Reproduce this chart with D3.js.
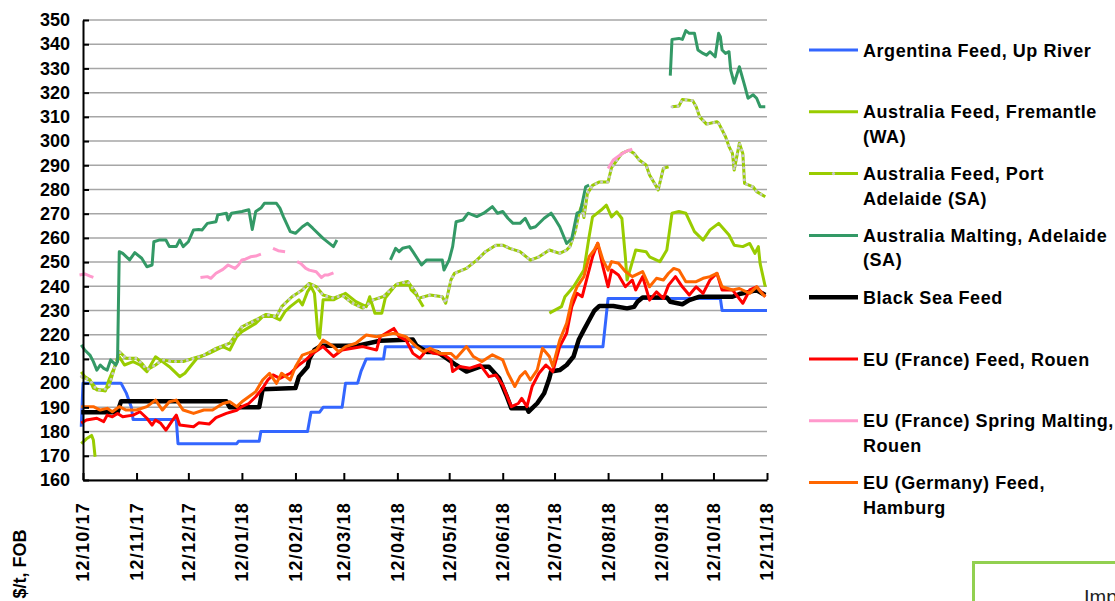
<!DOCTYPE html>
<html>
<head>
<meta charset="utf-8">
<script src="https://cdn.jsdelivr.net/npm/d3@7"></script>
<style>
body { margin:0; background:#fff; }
text { font-family:"Liberation Sans", Arial, sans-serif; }
</style>
</head>
<body>
<svg width="1115" height="601"></svg>
<script>
// ---- data ----
var xDomain = ["2017-10-12", "2018-11-12"];
var xTicks = ["2017-10-12","2017-11-12","2017-12-12","2018-01-12","2018-02-12","2018-03-12","2018-04-12",
              "2018-05-12","2018-06-12","2018-07-12","2018-08-12","2018-09-12","2018-10-12","2018-11-12"];
var yTicks = [160,170,180,190,200,210,220,230,240,250,260,270,280,290,300,310,320,330,340,350];

var argentina = [[
 ["2017-10-11",182],["2017-10-12",200],["2017-11-03",200],["2017-11-06",196],["2017-11-09",190],["2017-11-10",185],
 ["2017-12-05",185],["2017-12-06",175],["2018-01-09",175],["2018-01-10",176],["2018-01-22",176],["2018-01-23",180],
 ["2018-02-19",180],["2018-02-21",188],["2018-02-26",188],["2018-02-28",190],["2018-03-11",190],["2018-03-13",200],
 ["2018-03-20",200],["2018-03-22",205],["2018-03-25",210],["2018-04-04",210],["2018-04-05",215],["2018-08-09",215],
 ["2018-08-12",235],["2018-10-16",235],["2018-10-17",230],["2018-11-12",230]
]];

var fremantle = [
 [["2017-10-11",175],["2017-10-14",177],["2017-10-17",178.4],["2017-10-18",176.5],["2017-10-19",169.6]],
 [["2017-10-11",204.7],["2017-10-13",202.7],["2017-10-16",201.3],["2017-10-18",197.9],["2017-10-22",197.2],["2017-10-25",196.8],
  ["2017-10-27",201.3],["2017-10-29",204.7],["2017-11-02",210.9],["2017-11-05",207.5],["2017-11-10",208.9],["2017-11-14",207.5],
  ["2017-11-18",204.7],["2017-11-23",210.9],["2017-11-27",208.9],["2017-12-01",206.8],["2017-12-07",202.7],["2017-12-10",204.1],
  ["2017-12-13",206.8],["2017-12-17",210.3],["2017-12-24",212.3],["2018-01-01",215.1],["2018-01-05",213.7],["2018-01-09",219.2],
  ["2018-01-12",221.3],["2018-01-20",224.7],["2018-01-24",227.5],["2018-01-30",227.5],["2018-02-03",226.1],["2018-02-06",229.6],
  ["2018-02-09",231.6],["2018-02-14",234.4],["2018-02-16",232.3],["2018-02-19",237.8],["2018-02-21",239.9],["2018-02-23",237.1],
  ["2018-02-24",228.9],["2018-02-25",219.9],["2018-02-26",218.6],["2018-02-28",234.4],["2018-03-06",234.4],["2018-03-13",237.1],
  ["2018-03-19",233.7],["2018-03-25",231.6],["2018-03-27",235.7],["2018-03-30",228.9],["2018-04-03",228.9],["2018-04-05",235.1],
  ["2018-04-11",240.5],["2018-04-19",240.5],["2018-04-20",238.5],["2018-04-23",236.4],["2018-04-27",231.6]],
 [["2018-07-09",228.9],["2018-07-16",231.6],["2018-07-18",235.7],["2018-07-23",239.8],["2018-07-29",246.7],["2018-08-01",260.5],
  ["2018-08-03",268.7],["2018-08-08",271.5],["2018-08-11",273.5],["2018-08-14",268.7],["2018-08-17",270.8],["2018-08-20",268],
  ["2018-08-22",252.2],["2018-08-23",242.6],["2018-08-28",255],["2018-09-03",254.3],["2018-09-05",252.2],["2018-09-11",250.2],
  ["2018-09-15",255],["2018-09-18",270.2],["2018-09-22",270.9],["2018-09-26",270.2],["2018-10-01",262.6],["2018-10-06",259.1],
  ["2018-10-10",263.3],["2018-10-15",266],["2018-10-21",261.2],["2018-10-24",257],["2018-10-29",256.4],["2018-11-02",257.7],
  ["2018-11-05",253.6],["2018-11-07",256.4],["2018-11-08",249.5],["2018-11-11",239.8]]
];

var portAdelaide = [
 [["2017-10-11",202.7],["2017-10-16",201.3],["2017-10-20",197.2],["2017-10-24",197.2],["2017-10-27",198.6],["2017-10-29",203.4],
  ["2017-11-02",213],["2017-11-06",210.3],["2017-11-12",210.3],["2017-11-15",208.2],["2017-11-18",205.5],["2017-11-23",207.5],
  ["2017-11-27",209.6],["2017-12-03",208.9],["2017-12-09",208.9],["2017-12-15",210.3],["2017-12-21",211.6],["2017-12-28",214.4],
  ["2018-01-05",216.5],["2018-01-12",223.3],["2018-01-20",226.1],["2018-01-26",228.4],["2018-02-01",227.5],["2018-02-04",231.6],
  ["2018-02-10",235.7],["2018-02-16",238.5],["2018-02-20",241.2],["2018-02-24",239.9],["2018-02-28",236.4],["2018-03-06",235.1],
  ["2018-03-11",236.4],["2018-03-17",233],["2018-03-23",231],["2018-03-29",234.4],["2018-04-04",235.8],["2018-04-08",238.5],
  ["2018-04-12",241],["2018-04-18",242],["2018-04-23",237.1],["2018-04-24",235],["2018-05-01",236.4],["2018-05-08",235.7],
  ["2018-05-10",233],["2018-05-13",242.6],["2018-05-15",245.3],["2018-05-22",247.4],["2018-05-28",250.8],["2018-06-02",254.3],
  ["2018-06-08",257],["2018-06-12",257],["2018-06-16",255.7],["2018-06-22",254.3],["2018-06-28",250.8],["2018-07-03",252.2],
  ["2018-07-09",255],["2018-07-15",253.6],["2018-07-19",255],["2018-07-21",256.5],["2018-07-24",262.8],["2018-07-26",269.8],
  ["2018-07-28",274],["2018-07-29",268.4],["2018-07-31",278.2],["2018-08-03",281.7],["2018-08-07",283.1],["2018-08-12",283.1],
  ["2018-08-14",289],["2018-08-20",294.9],["2018-08-24",296.2],["2018-08-27",294.9],["2018-08-30",292.2],["2018-09-03",290.1],
  ["2018-09-05",286],["2018-09-09",281.1],["2018-09-10",279.8],["2018-09-13",288.7],["2018-09-16",289.4]],
 [["2018-09-18",314.2],["2018-09-22",314.5],["2018-09-24",317.2],["2018-09-30",316.7],["2018-10-02",314.2],["2018-10-04",310],
  ["2018-10-08",307],["2018-10-14",308],["2018-10-15",307.4],["2018-10-19",301.8],["2018-10-21",297.7],["2018-10-23",294.9],
  ["2018-10-24",288],["2018-10-27",299.1],["2018-10-29",294.9],["2018-10-30",282.5],["2018-11-04",281.1],["2018-11-06",279.1],
  ["2018-11-11",277]]
];

var malting = [
 [["2017-10-11",215.8],["2017-10-13",213.7],["2017-10-16",211.6],["2017-10-18",208.9],["2017-10-20",205.4],["2017-10-22",207.5],
  ["2017-10-24",206.1],["2017-10-26",205.4],["2017-10-28",209.6],["2017-10-31",207.5],["2017-11-01",208.9],["2017-11-02",254.3],
  ["2017-11-04",253.6],["2017-11-08",250.9],["2017-11-11",253.9],["2017-11-15",251.6],["2017-11-18",248.1],["2017-11-21",248.8],
  ["2017-11-22",258.4],["2017-11-25",259.1],["2017-11-29",259.1],["2017-12-01",256.4],["2017-12-05",256.4],["2017-12-07",259.1],
  ["2017-12-09",256.4],["2017-12-12",258.4],["2017-12-15",263.3],["2017-12-18",263.5],["2017-12-20",263.3],["2017-12-23",266],
  ["2017-12-28",266.7],["2017-12-29",269.5],["2018-01-03",270.2],["2018-01-04",267.4],["2018-01-06",270.2],["2018-01-12",270.9],
  ["2018-01-16",271.6],["2018-01-18",263.5],["2018-01-20",270.9],["2018-01-23",272.3],["2018-01-25",274.3],["2018-02-01",274.3],
  ["2018-02-03",272.3],["2018-02-05",268.8],["2018-02-09",262.6],["2018-02-12",261.9],["2018-02-16",264.6],["2018-02-19",266],
  ["2018-02-22",264],["2018-02-28",259.8],["2018-03-06",256.4],["2018-03-08",259.1]],
 [["2018-04-08",250.9],["2018-04-11",255.7],["2018-04-13",254.3],["2018-04-15",255.7],["2018-04-19",256.4],["2018-04-21",254.3],
  ["2018-04-26",248.8],["2018-04-29",250.9],["2018-05-08",250.9],["2018-05-09",246.7],["2018-05-12",250.9],["2018-05-14",256.4],
  ["2018-05-16",266.7],["2018-05-20",267.4],["2018-05-23",270.2],["2018-05-28",268.8],["2018-06-01",270.2],["2018-06-06",272.9],
  ["2018-06-09",270.2],["2018-06-12",270.9],["2018-06-15",268.1],["2018-06-18",266],["2018-06-22",266],["2018-06-25",268.1],
  ["2018-06-28",264],["2018-07-01",264.6],["2018-07-06",268.1],["2018-07-10",270.2],["2018-07-12",268.1],["2018-07-15",264.6],
  ["2018-07-19",257.7],["2018-07-22",259.8],["2018-07-25",270.2],["2018-07-27",270.9],["2018-07-30",281.1],["2018-08-01",281.8]],
 [["2018-09-17",327],["2018-09-18",342],["2018-09-22",342.4],["2018-09-24",342],["2018-09-26",345.6],["2018-09-28",344.5],
  ["2018-10-01",344.5],["2018-10-03",337.6],["2018-10-06",336.2],["2018-10-08",335.5],["2018-10-10",336.9],["2018-10-13",334.8],
  ["2018-10-15",344.5],["2018-10-16",343.1],["2018-10-17",337.6],["2018-10-19",336.2],["2018-10-21",336.9],["2018-10-22",329.3],
  ["2018-10-24",323.9],["2018-10-27",330.7],["2018-10-30",323.1],["2018-11-01",317.7],["2018-11-04",319.1],["2018-11-06",317.7],
  ["2018-11-08",314.2],["2018-11-11",314.2]]
];

var blackSea = [[
 ["2017-10-11",188],["2017-11-01",188],["2017-11-03",192.5],["2018-01-03",192.5],["2018-01-05",190],["2018-01-22",190],
 ["2018-01-24",197.5],["2018-02-12",198],["2018-02-14",202.7],["2018-02-19",206.8],["2018-02-20",210],["2018-02-23",213.7],
 ["2018-02-27",215.5],["2018-03-20",215.5],["2018-04-02",217.5],["2018-04-21",218],["2018-04-23",215.6],["2018-04-29",212.9],
 ["2018-05-05",212.9],["2018-05-11",210],["2018-05-16",207.5],["2018-05-22",204.8],["2018-05-30",206.8],["2018-06-04",206.8],
 ["2018-06-10",202],["2018-06-14",195.2],["2018-06-17",189.6],["2018-06-26",189.6],["2018-06-27",188.2],["2018-07-02",191.7],
 ["2018-07-06",195.8],["2018-07-09",202],["2018-07-10",204.8],["2018-07-15",205.4],["2018-07-19",207.5],["2018-07-23",211],
 ["2018-07-26",217.9],["2018-07-29",222],["2018-08-01",226],["2018-08-04",229.9],["2018-08-07",231.9],["2018-08-15",231.9],
 ["2018-08-23",230.9],["2018-08-27",231.5],["2018-08-29",233.6],["2018-09-01",235.4],["2018-09-15",235.4],["2018-09-17",233.6],
 ["2018-09-24",232.6],["2018-09-28",234.3],["2018-10-04",235.7],["2018-10-23",235.7],["2018-10-27",236.8],["2018-11-02",237.7],
 ["2018-11-06",238.4],["2018-11-11",236.4]
]];

var franceFeed = [[
 ["2017-10-11",183.5],["2017-10-14",184.8],["2017-10-20",185.5],["2017-10-24",184.1],["2017-10-26",186.8],["2017-10-29",186.1],
 ["2017-11-01",187.5],["2017-11-04",186.1],["2017-11-10",186.8],["2017-11-14",188.2],["2017-11-18",185.5],["2017-11-21",182.7],
 ["2017-11-23",184.8],["2017-11-26",183.4],["2017-11-29",180.6],["2017-12-03",184.8],["2017-12-05",186.8],["2017-12-07",182.7],
 ["2017-12-15",182],["2017-12-18",183.6],["2017-12-24",183.1],["2017-12-28",185.8],["2018-01-03",187.5],["2018-01-09",188.8],
 ["2018-01-12",190.3],["2018-01-16",191.6],["2018-01-20",194.4],["2018-01-24",197.9],["2018-01-27",201.3],["2018-01-30",203.4],
 ["2018-02-03",202],["2018-02-09",204.1],["2018-02-14",207.5],["2018-02-18",209.6],["2018-02-22",212.3],["2018-02-28",215.1],
 ["2018-03-06",211],["2018-03-11",213.7],["2018-03-17",214.4],["2018-03-23",215.1],["2018-03-31",213.7],["2018-04-02",219.2],
 ["2018-04-10",222.6],["2018-04-13",219.2],["2018-04-17",217.8],["2018-04-21",212.3],["2018-04-25",210.3],["2018-04-29",213.7],
 ["2018-05-03",212.3],["2018-05-09",211.7],["2018-05-13",209.6],["2018-05-14",204.8],["2018-05-18",206.9],["2018-05-24",206.2],
 ["2018-05-30",207.6],["2018-06-04",202.7],["2018-06-08",203.4],["2018-06-12",199.2],["2018-06-17",190.3],["2018-06-21",191.6],
 ["2018-06-23",193.7],["2018-06-26",190.3],["2018-06-29",198.6],["2018-07-03",204.1],["2018-07-07",207.5],["2018-07-11",204.8],
 ["2018-07-15",215.1],["2018-07-19",220.6],["2018-07-22",231.6],["2018-07-25",237.1],["2018-07-28",235.7],["2018-07-31",244],
 ["2018-08-03",252.2],["2018-08-06",257.8],["2018-08-09",248.1],["2018-08-12",239.8],["2018-08-14",246.7],["2018-08-18",244.7],
 ["2018-08-22",239.8],["2018-08-26",242.6],["2018-08-28",238.5],["2018-09-01",244],["2018-09-05",234.3],["2018-09-09",237.7],
 ["2018-09-13",235],["2018-09-16",240.5],["2018-09-20",244],["2018-09-24",239.8],["2018-09-28",236.4],["2018-10-02",239.8],
 ["2018-10-06",237.1],["2018-10-10",242.6],["2018-10-14",245.4],["2018-10-17",238.5],["2018-10-23",238.5],["2018-10-29",233],
 ["2018-11-02",238.5],["2018-11-06",239.8],["2018-11-11",235.7]
]];

var springMalting = [
 [["2017-10-10",244.7],["2017-10-13",245.1],["2017-10-16",244.2],["2017-10-18",243.7]],
 [["2017-12-19",243.6],["2017-12-23",244],["2017-12-25",243.3],["2017-12-28",245.4],["2018-01-01",247],["2018-01-04",248.8],
  ["2018-01-08",247.4],["2018-01-10",248.8],["2018-01-12",250.9],["2018-01-14",251.2],["2018-01-17",252.2],["2018-01-20",252.5],
  ["2018-01-23",253.3]],
 [["2018-01-30",255.7],["2018-02-02",254.7],["2018-02-06",254.3]],
 [["2018-02-13",250.2],["2018-02-15",249.5],["2018-02-18",247.4],["2018-02-20",246.7],["2018-02-24",246],["2018-02-27",243.6],
  ["2018-03-01",244.7],["2018-03-03",244.7],["2018-03-06",245.6]],
 [["2018-08-12",288.7],["2018-08-15",292.2],["2018-08-19",294.3],["2018-08-22",295.6],["2018-08-26",296.7]]
];

var germanyFeed = [[
 ["2017-10-11",190.3],["2017-10-18",190.3],["2017-10-22",188.9],["2017-10-26",189.6],["2017-10-29",188.2],["2017-11-02",190.3],
 ["2017-11-06",188.9],["2017-11-12",188.9],["2017-11-18",190.3],["2017-11-23",193],["2017-11-27",188.9],["2017-12-01",192.3],
 ["2017-12-05",193],["2017-12-09",188.9],["2017-12-15",187.5],["2017-12-21",188.9],["2017-12-26",188.9],["2018-01-01",191.6],
 ["2018-01-05",192.3],["2018-01-09",190.3],["2018-01-12",192.3],["2018-01-16",194.4],["2018-01-20",196.5],["2018-01-24",201.3],
 ["2018-01-28",204.1],["2018-02-01",199.9],["2018-02-04",204.1],["2018-02-09",201.3],["2018-02-12",206.8],["2018-02-16",211.6],
 ["2018-02-20",212.6],["2018-02-24",213.7],["2018-02-28",217.8],["2018-03-06",215.1],["2018-03-09",213],["2018-03-13",215.1],
 ["2018-03-19",216.5],["2018-03-25",219.9],["2018-03-31",219.2],["2018-04-10",220.6],["2018-04-17",219.2],["2018-04-23",215.1],
 ["2018-04-27",213],["2018-05-01",214.4],["2018-05-07",212.3],["2018-05-13",212.3],["2018-05-16",210.3],["2018-05-22",215.1],
 ["2018-05-26",211],["2018-05-31",208.9],["2018-06-06",211.7],["2018-06-12",209.6],["2018-06-15",204.1],["2018-06-19",198.6],
 ["2018-06-22",202.7],["2018-06-25",204.8],["2018-06-28",201.3],["2018-07-02",205.5],["2018-07-05",214.4],["2018-07-09",211],
 ["2018-07-11",206.9],["2018-07-15",217.8],["2018-07-19",224.7],["2018-07-22",234.3],["2018-07-25",239.8],["2018-07-29",244],
 ["2018-08-01",252.2],["2018-08-04",255],["2018-08-06",257.8],["2018-08-09",250.9],["2018-08-12",246.7],["2018-08-14",250.2],
 ["2018-08-18",249.5],["2018-08-22",246.1],["2018-08-26",244],["2018-09-01",246.1],["2018-09-05",239.8],["2018-09-09",243.3],
 ["2018-09-13",242.6],["2018-09-16",245.4],["2018-09-19",247.4],["2018-09-22",246.7],["2018-09-26",241.9],["2018-10-02",241.9],
 ["2018-10-06",243.3],["2018-10-10",244],["2018-10-14",245.4],["2018-10-17",239.8],["2018-10-23",238.5],["2018-10-27",239.1],
 ["2018-11-02",237.1],["2018-11-06",239.8],["2018-11-09",237.1],["2018-11-11",235.7]
]];

var seriesNames = [
  ["Argentina Feed, Up River"],
  ["Australia Feed, Fremantle", "(WA)"],
  ["Australia Feed, Port", "Adelaide (SA)"],
  ["Australia Malting, Adelaide", "(SA)"],
  ["Black Sea Feed"],
  ["EU (France) Feed, Rouen"],
  ["EU (France) Spring Malting,", "Rouen"],
  ["EU (Germany) Feed,", "Hamburg"]
];
var seriesData = [argentina, fremantle, portAdelaide, malting, blackSea, franceFeed, springMalting, germanyFeed];
var seriesColors = ["#3366ff", "#99cc00", "#99cc00", "#339966", "#000000", "#ff0000", "#ff99cc", "#ff6600"];
var seriesWidths = [3, 3, 3, 3, 4.5, 3, 3, 3];

// ---- chart ----
var svg = d3.select("svg");
var parse = d3.timeParse("%Y-%m-%d");
var plotLeft = 83, plotRight = 767, plotTop = 20, plotBottom = 480;

var x = d3.scaleTime().domain(xDomain.map(parse)).range([plotLeft, plotRight]);
var y = d3.scaleLinear().domain([160, 350]).range([plotBottom, plotTop]);

// gridlines
svg.append("g")
    .selectAll("line")
    .data(yTicks)
    .enter().append("line")
    .attr("x1", plotLeft)
    .attr("x2", plotRight)
    .attr("y1", function(d){return y(d);})
    .attr("y2", function(d){return y(d);})
    .attr("stroke", "#a6a6a6")
    .attr("stroke-width", 1.5);

var line = d3.line()
    .x(function(d){return x(parse(d[0]));})
    .y(function(d){return y(d[1]);});

var lines = svg.append("g").attr("fill", "none")
    .attr("stroke-linejoin", "round");

seriesData.forEach(function(segs, i){
    segs.forEach(function(seg){
        lines.append("path")
            .attr("d", line(seg))
            .attr("stroke", seriesColors[i])
            .attr("stroke-width", seriesWidths[i]);
        // Port Adelaide has small grey markers on every point
        if(i === 2){
            lines.append("path")
                .attr("d", line(seg))
                .attr("stroke", "#c8c8c8")
                .attr("stroke-width", 3)
                .attr("stroke-linecap", "round")
                .attr("stroke-dasharray", "0,6");
        }
    });
});

// axes
var yAxis = d3.axisLeft(y).tickValues(yTicks).tickSizeInner(-6).tickSizeOuter(0).tickPadding(13);
var gy = svg.append("g").attr("transform", "translate(" + plotLeft + ",0)").call(yAxis);
gy.select(".domain").attr("stroke", "#000").attr("stroke-width", 2);
gy.selectAll(".tick line").attr("stroke", "#000").attr("stroke-width", 2);
gy.selectAll(".tick text").attr("font-size", 18).attr("font-weight", "bold").attr("fill", "#000")
    .attr("font-family", "'Liberation Sans', Arial, sans-serif");

var xAxis = d3.axisBottom(x).tickValues(xTicks.map(parse)).tickSizeInner(-7).tickSizeOuter(0).tickFormat("");
var gx = svg.append("g").attr("transform", "translate(0," + plotBottom + ")").call(xAxis);
gx.select(".domain").attr("stroke", "#000").attr("stroke-width", 2);
gx.selectAll(".tick line").attr("stroke", "#000").attr("stroke-width", 2);

var fmt = d3.timeFormat("%d/%m/%y");
svg.append("g")
    .selectAll("text")
    .data(xTicks)
    .enter().append("text")
    .attr("transform", function(d){return "translate(" + x(parse(d)) + ",502) rotate(-90)";})
    .attr("text-anchor", "end")
    .attr("dy", "0.36em")
    .attr("font-size", 18)
    .attr("font-weight", "bold")
    .attr("letter-spacing", 1.2)
    .text(function(d){return fmt(parse(d));});

svg.append("text")
    .attr("transform", "translate(20,564) rotate(-90)")
    .attr("text-anchor", "middle")
    .attr("dy", "0.36em")
    .attr("font-size", 18)
    .attr("font-weight", "bold")
    .text("$/t, FOB");

// legend
var legend = svg.append("g").attr("transform", "translate(809,50)");
var item = legend.selectAll("g")
    .data(seriesNames)
    .enter().append("g")
    .attr("transform", function(d, i){return "translate(0," + (i * 61.8) + ")";});
item.append("line")
    .attr("x1", 0).attr("x2", 49)
    .attr("stroke", function(d, i){return seriesColors[i];})
    .attr("stroke-width", function(d, i){return seriesWidths[i];});
item.filter(function(d, i){return i === 2;})
    .append("circle")
    .attr("cx", 24.5).attr("r", 1.6).attr("fill", "#c8c8c8");
item.append("text")
    .attr("x", 54)
    .attr("font-size", 18)
    .attr("font-weight", "bold")
    .attr("letter-spacing", 0.55)
    .selectAll("tspan")
    .data(function(d){return d;})
    .enter().append("tspan")
    .attr("x", 54)
    .attr("y", function(d, j){return 6.5 + j * 24.5;})
    .text(function(d){return d;});

// box in the corner
svg.append("rect")
    .attr("x", 973.5).attr("y", 562.5)
    .attr("width", 160).attr("height", 60)
    .attr("fill", "#fff")
    .attr("stroke", "#92d050")
    .attr("stroke-width", 3);
svg.append("text")
    .attr("x", 1084).attr("y", 604)
    .attr("font-size", 20)
    .attr("fill", "#222")
    .text("Import");
</script>
</body>
</html>
